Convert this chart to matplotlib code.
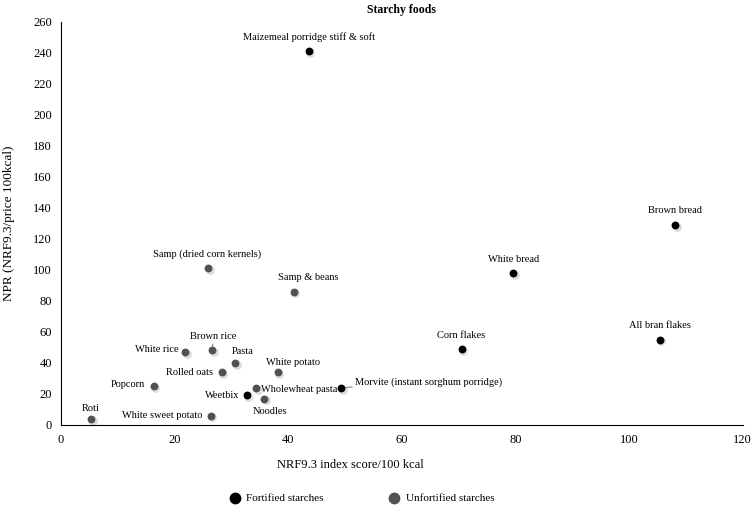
import matplotlib
matplotlib.use("Agg")
import matplotlib.pyplot as plt

plt.rcParams['font.family'] = ['Liberation Serif', 'DejaVu Serif']

# fortified starches
fort_names = ["Maizemeal porridge stiff & soft", "Brown bread", "White bread",
              "All bran flakes", "Corn flakes", "Morvite (instant sorghum porridge)",
              "Weetbix"]
fort_x = [43.6, 108.1, 79.6, 105.4, 70.5, 49.3, 32.7]
fort_y = [241, 129, 98, 55, 49, 24, 19]

# unfortified starches
unf_names = ["Samp (dried corn kernels)", "Samp & beans", "Brown rice", "White rice",
             "Pasta", "White potato", "Rolled oats", "Popcorn", "Wholewheat pasta",
             "Noodles", "Roti", "White sweet potato"]
unf_x = [25.9, 41.0, 26.6, 21.9, 30.7, 38.2, 28.3, 16.3, 34.4, 35.8, 5.3, 26.4]
unf_y = [101, 86, 48, 47, 40, 34, 34, 25, 24, 17, 4, 6]

# label placement: (dx, dy in points, ha, leader line)
label_pos = {
    "Maizemeal porridge stiff & soft": (0, 10, "center", False),
    "Brown bread": (0, 10, "center", False),
    "White bread": (0, 10, "center", False),
    "All bran flakes": (0, 10, "center", False),
    "Corn flakes": (0, 10, "center", False),
    "Morvite (instant sorghum porridge)": (10, 4, "left", True),
    "Weetbix": (-5, 0, "right", False),
    "Samp (dried corn kernels)": (-1, 10, "center", False),
    "Samp & beans": (10, 10, "center", False),
    "Brown rice": (1, 10, "center", True),
    "White rice": (-5, 2, "right", False),
    "Pasta": (5, 8, "center", False),
    "White potato": (11, 7, "center", False),
    "Rolled oats": (-6, 0, "right", False),
    "Popcorn": (-6, 1, "right", False),
    "Wholewheat pasta": (3, -1, "left", False),
    "Noodles": (4, -9, "center", False),
    "Roti": (0, 7, "center", False),
    "White sweet potato": (-6, 0, "right", False),
}

fig = plt.figure(figsize=(7.54, 5.07), dpi=100)
ax = fig.add_axes([0.081, 0.162, 0.904, 0.795])

grey = "#525252"
# soft shadow under the markers
ax.scatter([v + 0.25 for v in fort_x + unf_x], [v - 1.2 for v in fort_y + unf_y],
           s=40, color="#bbbbbb", alpha=0.5, linewidths=0, zorder=2)
ax.scatter(fort_x, fort_y, s=32, color="black", linewidths=0, zorder=3,
           label="Fortified starches")
ax.scatter(unf_x, unf_y, s=32, color=grey, linewidths=0, zorder=3,
           label="Unfortified starches")

for names, xs, ys in [(fort_names, fort_x, fort_y), (unf_names, unf_x, unf_y)]:
    for n, x, y in zip(names, xs, ys):
        dx, dy, ha, lead = label_pos[n]
        props = dict(arrowstyle="-", color="#555555", lw=0.6, shrinkA=0, shrinkB=3) if lead else None
        ax.annotate(n, (x, y), xytext=(dx, dy), textcoords="offset points",
                    ha=ha, va="center", fontsize=7.5, arrowprops=props, zorder=4)

ax.set_xlim(0, 120)
ax.set_ylim(0, 260)
ax.set_xticks(range(0, 121, 20))
ax.set_yticks(range(0, 261, 20))
ax.tick_params(length=0, labelsize=9, pad=6.5)
for side in ["top", "right"]:
    ax.spines[side].set_visible(False)
for side in ["left", "bottom"]:
    ax.spines[side].set_linewidth(0.8)

ax.set_title("Starchy foods", fontsize=8.5, fontweight="bold", pad=6)
ax.set_xlabel("NRF9.3 index score/100 kcal", fontsize=9)
ax.xaxis.set_label_coords(0.425, -0.085)
ax.set_ylabel("NPR (NRF9.3/price 100kcal)", fontsize=9.5)
ax.yaxis.set_label_coords(-0.068, 0.5)

fig.legend(loc="center left", bbox_to_anchor=(0.304, 0.018), ncol=2, frameon=False,
           fontsize=8, borderpad=0, borderaxespad=0, handlelength=1.0,
           handletextpad=0.5, columnspacing=5.9, markerscale=1.5)

fig.savefig("out.png", dpi=100)
